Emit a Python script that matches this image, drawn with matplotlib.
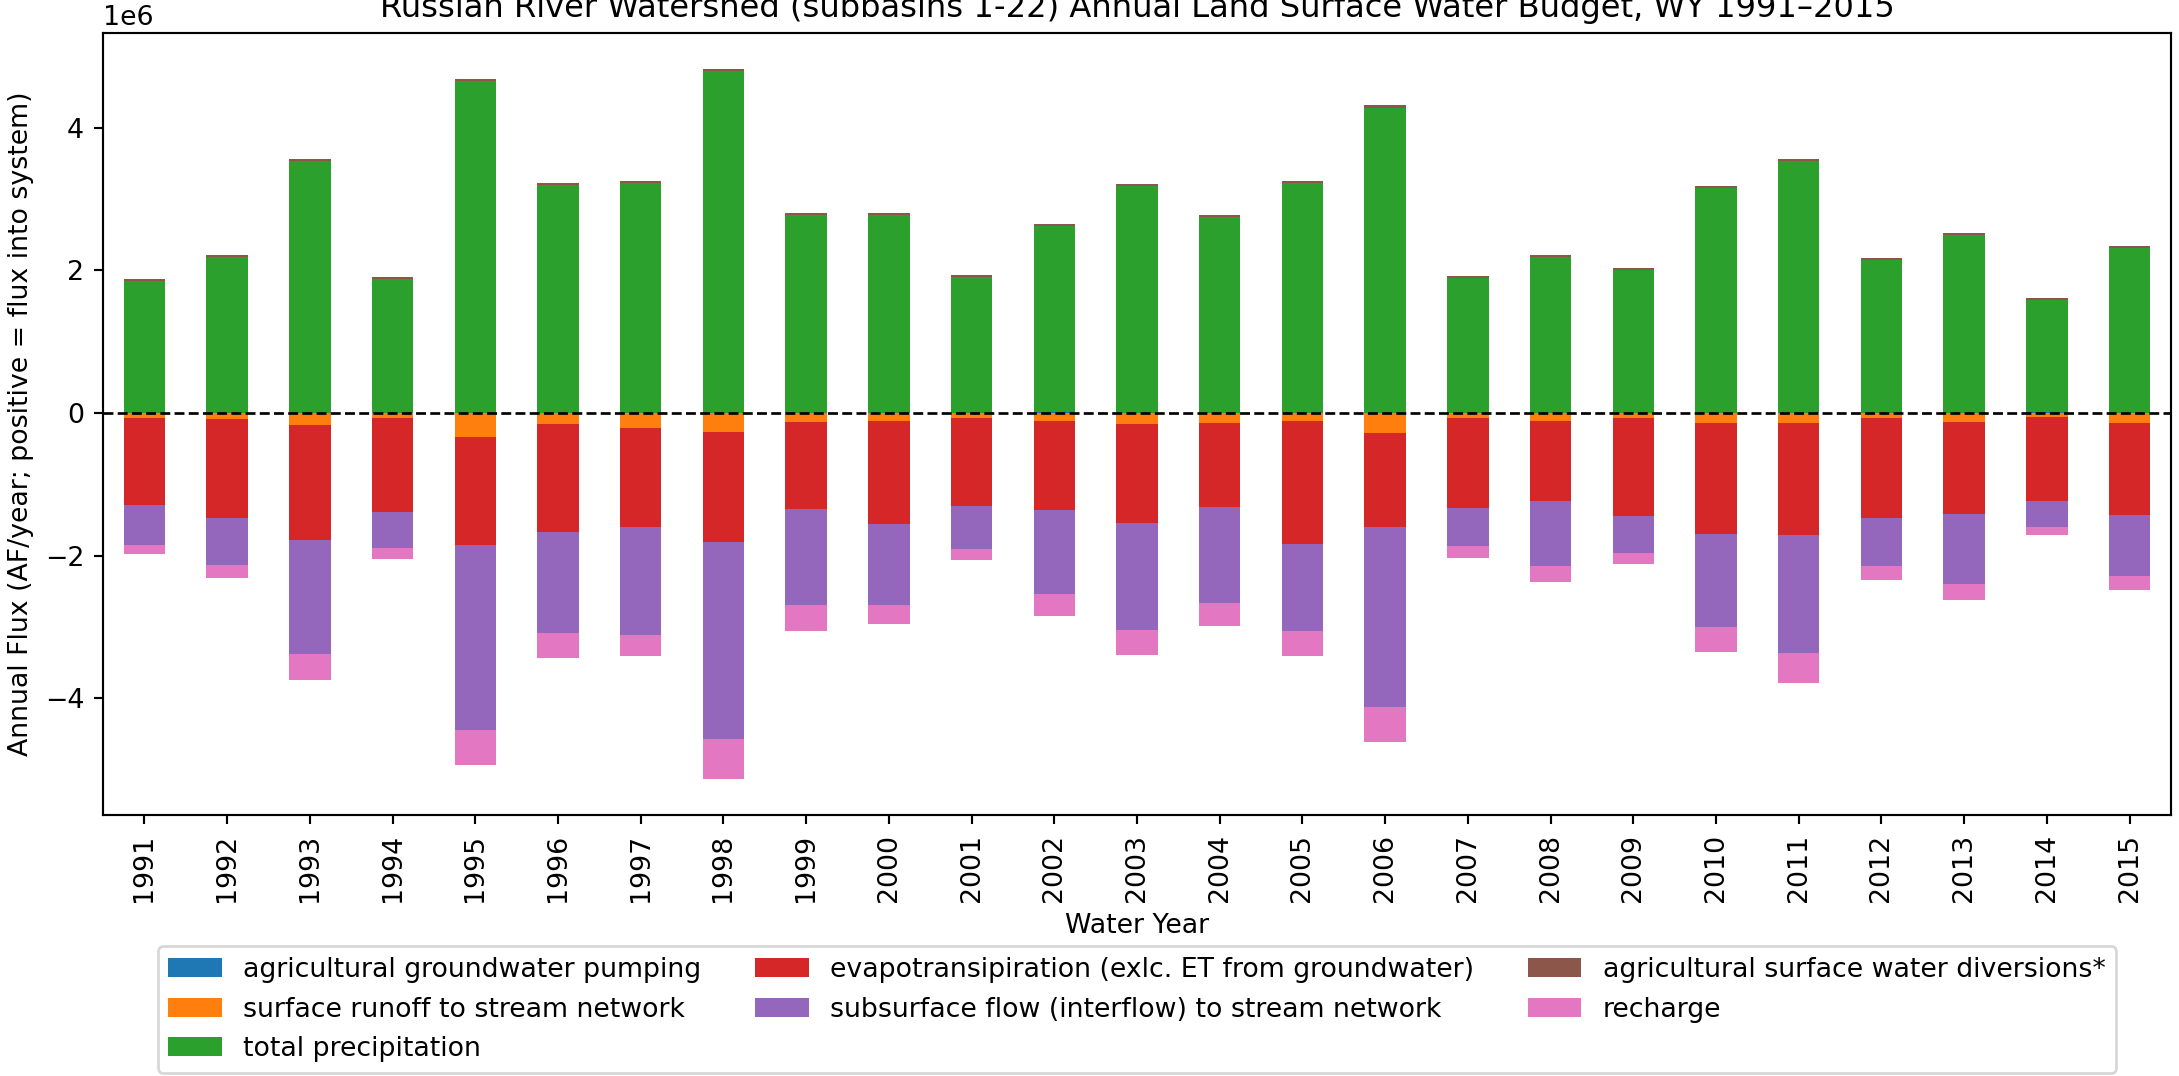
import pandas as pd
import matplotlib
matplotlib.use('Agg')
import matplotlib.pyplot as plt

# water years
years = list(range(1991, 2016))

# annual fluxes in AF/year (positive = into system)
ag_pumping = [4000, 5000, 4000, 8000, 3000, 4000, 5000, 3000, 5000, 6000,
              6000, 9000, 6000, 8000, 5000, 7000, 7000, 8000, 8000, 6000,
              5000, 7000, 8000, 9000, 8000]
surface_runoff = [-65000, -80000, -165000, -66000, -333000, -150000, -205000, -260000, -119000, -105000,
                  -63000, -105000, -148000, -133000, -105000, -274000, -63000, -105000, -63000, -133000,
                  -133000, -63000, -119000, -49000, -133000]
precipitation = [1845000, 2182000, 3533000, 1872000, 4650000, 3195000, 3223000, 4798000, 2773000, 2773000,
                 1901000, 2618000, 3181000, 2745000, 3223000, 4278000, 1887000, 2182000, 1999000, 3153000,
                 3533000, 2140000, 2492000, 1576000, 2309000]
evapotranspiration = [-1222000, -1393000, -1617000, -1322000, -1519000, -1520000, -1392000, -1546000, -1223000, -1448000,
                      -1237000, -1251000, -1391000, -1180000, -1729000, -1321000, -1265000, -1125000, -1377000, -1560000,
                      -1574000, -1405000, -1293000, -1181000, -1293000]
interflow = [-561000, -661000, -1589000, -507000, -2588000, -1420000, -1518000, -2768000, -1349000, -1138000,
             -604000, -1180000, -1503000, -1350000, -1222000, -2529000, -534000, -913000, -520000, -1307000,
             -1658000, -675000, -984000, -365000, -857000]
ag_diversions = [28000, 27000, 29000, 26000, 30000, 28000, 29000, 30000, 27000, 27000,
                 25000, 27000, 28000, 27000, 28000, 29000, 25000, 27000, 26000, 28000,
                 29000, 26000, 27000, 24000, 27000]
recharge = [-126000, -182000, -366000, -154000, -490000, -337000, -295000, -562000, -365000, -267000,
            -154000, -309000, -351000, -323000, -351000, -492000, -168000, -225000, -155000, -351000,
            -422000, -197000, -225000, -112000, -197000]

df = pd.DataFrame({
    'agricultural groundwater pumping': ag_pumping,
    'surface runoff to stream network': surface_runoff,
    'total precipitation': precipitation,
    'evapotransipiration (exlc. ET from groundwater)': evapotranspiration,
    'subsurface flow (interflow) to stream network': interflow,
    'agricultural surface water diversions*': ag_diversions,
    'recharge': recharge,
}, index=years)

DPI = 193
fig = plt.figure(figsize=(2179 / DPI, 1076 / DPI), dpi=DPI)
ax = fig.add_axes([0.0473, 0.2426, 0.949, 0.7267])

df.plot(kind='bar', stacked=True, width=0.5, ax=ax)
ax.axhline(0, color='black', linestyle='--', linewidth=1)

ax.set_title('Russian River Watershed (subbasins 1-22) Annual Land Surface Water Budget, WY 1991\u20132015')
ax.set_xlabel('Water Year')
ax.set_ylabel('Annual Flux (AF/year; positive = flux into system)')
ax.legend(loc='upper center', bbox_to_anchor=(0.5, -0.151), ncol=3)

fig.savefig('out.png', dpi=DPI)
